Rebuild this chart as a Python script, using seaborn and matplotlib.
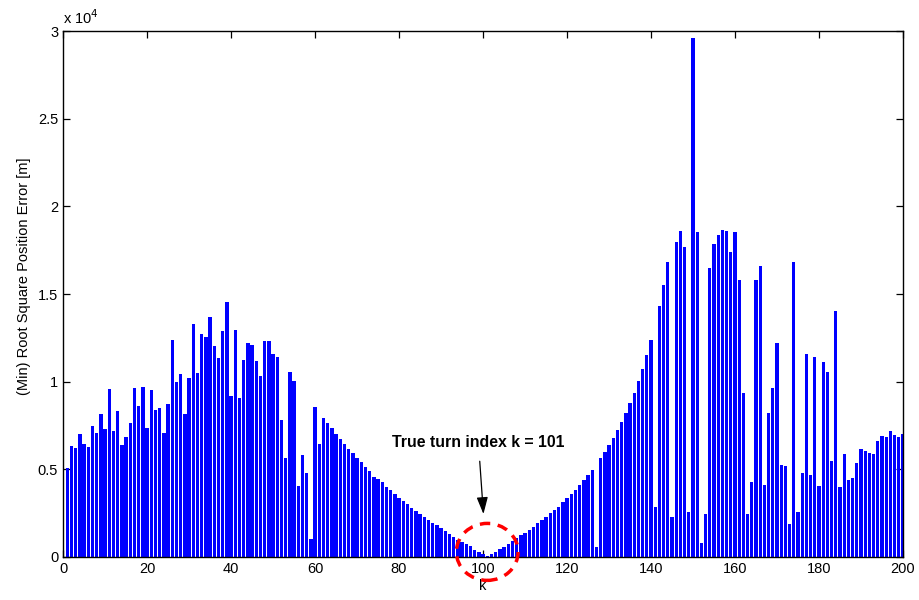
import numpy as np
import pandas as pd
import matplotlib
matplotlib.use("Agg")
import matplotlib.pyplot as plt
from matplotlib.patches import Ellipse
from matplotlib.ticker import FuncFormatter
import seaborn as sns

# (Min) root square position error per index k = 1..200
k = list(range(1, 201))
err_1_50 = [5090, 6310, 6200, 7010, 6440, 6270, 7470, 7050, 8140, 7280,
            9580, 7190, 8330, 6410, 6830, 7660, 9640, 8590, 9700, 7360,
            9540, 8400, 8500, 7050, 8710, 12350, 9960, 10450, 8150, 10230,
            13290, 10470, 12720, 12530, 13670, 12030, 11350, 12870, 14540, 9200,
            12970, 9050, 11220, 12200, 12090, 11180, 10320, 12320, 12300, 11600]
err_51_100 = [11420, 7810, 5650, 10530, 10040, 4070, 5840, 4770, 1050, 8540,
              6440, 7930, 7620, 7340, 7030, 6750, 6460, 6180, 5910, 5650,
              5400, 5150, 4900, 4540, 4450, 4280, 4010, 3800, 3590, 3360,
              3190, 3000, 2810, 2640, 2450, 2280, 2110, 1940, 1810, 1630,
              1460, 1330, 1160, 990, 870, 740, 610, 420, 300, 150]
err_101_150 = [30, 150, 290, 440, 590, 720, 890, 1060, 1240, 1390,
               1560, 1730, 1920, 2090, 2280, 2490, 2680, 2870, 3120, 3350,
               3590, 3840, 4090, 4370, 4660, 4960, 550, 5630, 5990, 6370,
               6790, 7220, 7700, 8210, 8760, 9350, 10020, 10720, 11500, 12360,
               2870, 14330, 15510, 16820, 2280, 17950, 18600, 17680, 2570, 29620]
err_151_200 = [18550, 780, 2450, 16500, 17850, 18360, 18670, 18570, 17380, 18550,
               15800, 9350, 2430, 4300, 15780, 16610, 4090, 8210, 9660, 12190,
               5270, 5170, 1860, 16840, 2580, 4770, 11600, 4660, 11410, 4030,
               11140, 10550, 5470, 14010, 3990, 5850, 4390, 4520, 5340, 6180,
               6030, 5950, 5870, 6620, 6900, 6860, 7170, 6940, 6820, 7000]
err = err_1_50 + err_51_100 + err_101_150 + err_151_200

df = pd.DataFrame({"k": k, "err": err})

sns.set_style("ticks")
plt.rcParams["font.family"] = ["Liberation Sans", "DejaVu Sans"]
plt.rcParams["text.color"] = "black"
plt.rcParams["axes.labelcolor"] = "black"

fig = plt.figure(figsize=(9.19, 6.0), dpi=100)
ax = fig.add_axes([0.0686, 0.0717, 0.9140, 0.8766])

sns.barplot(data=df, x="k", y="err", native_scale=True, color="#0000ff",
            saturation=1, width=0.8, linewidth=0, errorbar=None, ax=ax)

ax.set_xlim(0, 200)
ax.set_ylim(0, 30000)
ax.set_xticks(range(0, 201, 20))
ax.set_yticks(np.arange(0, 30001, 5000))
ax.yaxis.set_major_formatter(FuncFormatter(lambda v, p: "%g" % (v / 1e4)))
ax.tick_params(direction="in", top=True, right=True, length=5, width=0.9,
               labelsize=10.5, colors="black", labelcolor="black")
for s in ax.spines.values():
    s.set_visible(True)
    s.set_color("black")
    s.set_linewidth(1.0)

ax.set_xlabel("k", fontsize=10.5, labelpad=2, color="black")
ax.set_ylabel("(Min) Root Square Position Error [m]", fontsize=10.5, color="black")
ax.yaxis.set_label_coords(-0.038, 0.533)
ax.text(0.0, 1.008, "x 10$^4$", transform=ax.transAxes, fontsize=10.5,
        ha="left", va="bottom", color="black")

ax.annotate("True turn index k = 101", xy=(100.1, 2450), xytext=(98.9, 6550),
            ha="center", va="center", fontsize=11.4, fontweight="bold",
            color="black",
            arrowprops=dict(arrowstyle="-|>,head_length=0.9,head_width=0.3",
                            color="black", lw=0.9, shrinkA=6, shrinkB=0))

ell = Ellipse((101, 290), width=14.7, height=3250, fill=False, edgecolor="red",
              linestyle=(0, (3, 2.2)), linewidth=2.5, clip_on=False, zorder=5)
ax.add_patch(ell)

plt.savefig("out.png", dpi=100)
